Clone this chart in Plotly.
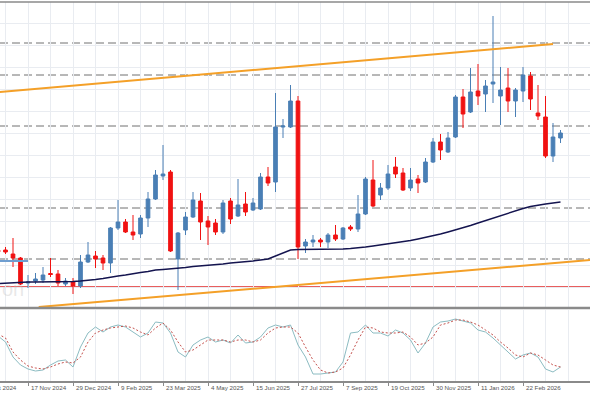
import pandas as pd
import plotly.graph_objects as go

# ---------------- data ----------------
week_start = "2024-10-20"
n_weeks = 76
dates = pd.date_range(week_start, periods=n_weeks, freq="7D")

opens = [150,150,146,142,117,119,120,126.5,126,116,118,114,138,144,142,137,172,178,168,166,
         182,201,224,228,141,170,183,199,179,177,168,199,184,196,190,191,223,218,273,273,
         299,154,158,160,158,165,161,173,171,186,220,205,212,233,227,212,221,218,238,258,
         248,263,303,288,309,306,316,304,312,299,309,324,287,283,244,262]
highs = [152,153,162,143,125,127,133,142,130,122,122,145,158,149,145,173,200,181,185,185,
         208,230,255,230,168,188,208,207,184,181,200,202,221,208,202,227,233,307,281,315,
         304,161,165,162,167,175,173,175,205,223,240,217,235,243,232,232,225,242,262,266,
         268,305,311,332,336,320,384,333,332,312,333,328,315,304,277,270]
lows = [146,146,133,115,112,116,117,123,114,114,106,112,137,132,130,127,170,167,160,162,
        173,200,220,148,110,165,182,160,155,165,166,176,183,184,189,190,214,208,262,272,
        141,147,153,153,152,159,160,169,168,185,193,200,210,222,209,209,207,217,237,240,
        247,262,272,287,295,288,297,275,288,283,298,290,280,242,238,257]
closes = [148,148,142,116,118,121,125,125.5,117,119,114,138,145,141,137,172,178,168,165,182,
          201,225,226,149,167,183,200,178,173,168,197,181,195,188,197,223,217,273,274,299,
          153,158,160,158,165,161,172,171,186,221,194,212,226,226,210,220,217,238,258,250,
          262,303,286,308,304,314,318,310,299,310,325,301,284,244,263,267]

ma = [116.5,117,117,117.5,118,118,118,118,118,118,118.5,119,119.5,120.5,121.5,123,124,125,126.5,127.5,
      128.5,130,130.5,131,132,132.5,133.5,134,135,135.5,136,137,137.5,138,139,140,141,144,147,150,
      150.5,150.5,150.5,150.5,151,151,151,151.5,152,153,154,155,156,157,158,159.5,161,162.5,164,166,
      168,170,172,174.5,177,179.5,182,184.5,187,189.5,191.5,193.5,195,196,197,198]

stoch_main = [66,57,34.5,22.5,16.5,13.5,15,22.5,28.5,30,19.5,49.5,70.5,79.5,72,79.5,82.5,79.5,72,64.5,
              70.5,87,85.5,70.5,42,34.5,52.5,60,64.5,57,60,55.5,67.5,55.5,57,64.5,78,82.5,79.5,82.5,
              52.5,34.5,9,9,10.5,12,27,70.5,72,82.5,70.5,70.5,66,75,70.5,60,40.5,55.5,79.5,87,
              88.5,91.5,88.5,85.5,75,72,63,52.5,40.5,31.5,37.5,40.5,34.5,16.5,12,19.5]
stoch_signal = [69,63,42,30,21,18,16.5,19.5,24,27,25.5,34.5,57,70.5,75,78,79.5,81,78,72,
                67.5,78,85.5,75,57,42,45,52.5,60,60,60,57,60,60,57,60,70.5,78,79.5,79.5,
                70.5,49.5,30,15,10.5,12,18,37.5,60,79.5,78,72,70.5,70.5,72,64.5,52.5,55.5,64.5,82.5,
                85.5,90,90,87,82.5,75,67.5,57,48,37.5,34.5,40.5,37.5,30,22.5,19.5]

dashed_levels = [357, 325, 274, 192, 141]
support_level = 113
marker_seg_dates = ["2024-10-20", "2024-11-17"]
marker_seg_level = [139, 139]

upper_trend_dates = ["2024-10-20", "2026-03-22"]
upper_trend_vals = [307.8, 356]
lower_trend_dates = ["2024-11-27", "2026-05-03"]
lower_trend_vals = [93, 140.7]

tick_dates = ["2024-10-06", "2024-11-17", "2024-12-29", "2025-02-09", "2025-03-23", "2025-05-04",
              "2025-06-15", "2025-07-27", "2025-09-07", "2025-10-19", "2025-11-30", "2026-01-11",
              "2026-02-22"]
tick_labels = ["6 Oct 2024", "17 Nov 2024", "29 Dec 2024", "9 Feb 2025", "23 Mar 2025", "4 May 2025",
               "15 Jun 2025", "27 Jul 2025", "7 Sep 2025", "19 Oct 2025", "30 Nov 2025", "11 Jan 2026",
               "22 Feb 2026"]

# ---------------- styles ----------------
BLUE = "#4A7FB5"
RED = "#F01212"
GRID = "#E9ECF1"
W, H = 590, 393
BOTTOM = 12

ref = pd.Timestamp("2024-11-17")
x0 = ref - pd.Timedelta(days=26.13)
x1 = ref + pd.Timedelta(days=524.53)
WEEK3 = 3 * 7 * 86400000

fig = go.Figure()

fig.add_trace(go.Scatter(x=upper_trend_dates, y=upper_trend_vals, mode="lines",
                         line=dict(color="#F4A028", width=2), hoverinfo="skip", xaxis="x", yaxis="y"))
fig.add_trace(go.Scatter(x=lower_trend_dates, y=lower_trend_vals, mode="lines",
                         line=dict(color="#F4A028", width=2), hoverinfo="skip", xaxis="x", yaxis="y"))
fig.add_trace(go.Scatter(x=marker_seg_dates, y=marker_seg_level, mode="lines",
                         line=dict(color="#6F9ED0", width=2), hoverinfo="skip", xaxis="x", yaxis="y"))
fig.add_trace(go.Scatter(x=dates, y=ma, mode="lines",
                         line=dict(color="#14144F", width=1.5), hoverinfo="skip", xaxis="x", yaxis="y"))

fig.add_trace(go.Candlestick(
    x=dates, open=opens, high=highs, low=lows, close=closes,
    increasing=dict(line=dict(color=BLUE, width=1), fillcolor=BLUE),
    decreasing=dict(line=dict(color=RED, width=1), fillcolor=RED),
    whiskerwidth=0, xaxis="x", yaxis="y"))

fig.add_trace(go.Scatter(x=dates, y=stoch_main, mode="lines",
                         line=dict(color="#8CBCC2", width=1), xaxis="x2", yaxis="y2"))
fig.add_trace(go.Scatter(x=dates, y=stoch_signal, mode="lines",
                         line=dict(color="#C4504C", width=1, dash="2px,2px"), xaxis="x2", yaxis="y2"))

shapes = []
for lv in dashed_levels:
    shapes.append(dict(type="line", xref="x domain", yref="y", x0=0, x1=1, y0=lv, y1=lv,
                       line=dict(color="#707070", width=1, dash="8px,4px"), layer="below"))
shapes.append(dict(type="line", xref="x domain", yref="y", x0=0, x1=1, y0=support_level, y1=support_level,
                   line=dict(color="#E02828", width=1.3), layer="below"))
# pane borders
shapes.append(dict(type="line", xref="paper", yref="y domain", x0=0, x1=1, y0=1, y1=1,
                   line=dict(color="#8A8A8A", width=1.5)))
shapes.append(dict(type="line", xref="paper", yref="y domain", x0=0, x1=1, y0=0, y1=0,
                   line=dict(color="#8A8A8A", width=2.5)))

annotations = []
span = (x1 - x0).total_seconds()
for d, t in zip(tick_dates, tick_labels):
    fx = (pd.Timestamp(d) - x0).total_seconds() / span
    annotations.append(dict(x=fx, y=0, xref="paper", yref="paper", xanchor="left", yanchor="top",
                            text=t, showarrow=False, xshift=1, yshift=-1,
                            font=dict(family="Liberation Sans, Arial", size=6.2, color="#555555")))
annotations.append(dict(x=0, y=111, xref="paper", yref="y", xanchor="left", yanchor="middle",
                        text="on", showarrow=False, xshift=0,
                        font=dict(family="Liberation Sans, Arial", size=20, color="rgba(190,190,190,0.35)")))

main_bot = (H - BOTTOM - 308) / (H - BOTTOM)
main_top = (H - BOTTOM - 2) / (H - BOTTOM)
sub_top = (H - BOTTOM - 310) / (H - BOTTOM)

fig.update_layout(
    width=W, height=H, autosize=False,
    margin=dict(l=0, r=0, t=0, b=BOTTOM, autoexpand=False),
    paper_bgcolor="white", plot_bgcolor="white",
    showlegend=False,
    shapes=shapes, annotations=annotations,
    xaxis=dict(range=[x0, x1], type="date", domain=[0, 1], anchor="y",
               showgrid=True, gridcolor=GRID, gridwidth=1, tick0="2024-11-17", dtick=WEEK3,
               showticklabels=False, ticks="", zeroline=False, rangeslider=dict(visible=False),
               showline=False),
    yaxis=dict(range=[92, 398], domain=[main_bot, main_top], anchor="x",
               showgrid=True, gridcolor=GRID, tick0=267, dtick=22,
               showticklabels=False, ticks="", zeroline=False),
    xaxis2=dict(range=[x0, x1], type="date", domain=[0, 1], anchor="y2", matches="x",
                tickmode="array", tickvals=tick_dates, ticks="outside", ticklen=3, tickcolor="#8A8A8A",
                showticklabels=False, showgrid=True, gridcolor=GRID,
                minor=dict(tickmode="linear", tick0="2024-11-17", dtick=WEEK3, showgrid=True,
                           gridcolor=GRID, ticks=""),
                showline=True, linecolor="#8A8A8A", linewidth=1.5, zeroline=False),
    yaxis2=dict(range=[-1.5, 105], domain=[0, sub_top], anchor="x2",
                showgrid=False, showticklabels=False, ticks="", zeroline=False),
)

post = ("document.body.style.margin='0';document.body.style.padding='0';"
        "document.body.style.overflow='hidden';"
        "var gd=document.getElementById('{plot_id}');"
        "Plotly.relayout(gd,{width:590,height:393});")

fig.write_html("out.html", config={"responsive": False, "displayModeBar": False}, post_script=post)
